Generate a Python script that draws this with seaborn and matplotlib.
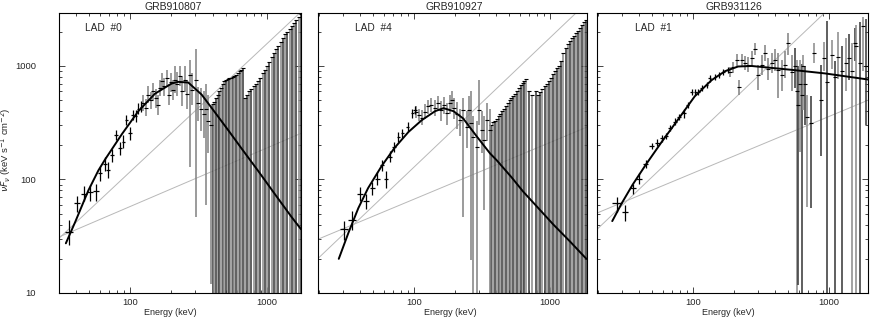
import matplotlib
matplotlib.use("Agg")
import matplotlib.pyplot as plt
import seaborn as sns
import numpy as np

# ---------------- data ----------------
# GRB910807 / LAD #0
P1_E = [35.9, 41.2, 46.2, 51.0, 56.2, 60.4, 65.7, 69.4, 74.2, 79.0, 84.5, 89.3, 94.0, 100, 104.6, 110, 115, 120]
P1_E_LO = [33.5, 39.3, 44.0, 48.6, 53.6, 58.2, 63.3, 67.3, 72.0, 76.7, 82.0, 86.8, 91.5, 97.2, 102.0, 107.3, 112.5, 117.5]
P1_E_HI = [38.5, 43.2, 48.5, 53.5, 58.9, 62.7, 68.2, 71.6, 76.5, 81.4, 87.0, 91.8, 96.6, 102.8, 107.3, 112.8, 117.6, 122.6]
P1_F = [34.7, 62.5, 75, 77, 79, 113, 137, 122, 164, 247, 188, 215, 334, 255, 370, 361, 420, 438]
P1_F_LO = [26.5, 52, 64, 65, 64, 97, 118, 103, 143, 222, 163, 188, 300, 222, 335, 318, 375, 390]
P1_F_HI = [44, 72, 87, 90, 92, 130, 158, 142, 186, 275, 215, 245, 370, 290, 410, 410, 468, 490]

P1_BAR_E = [125, 130, 136, 142, 148, 154, 160, 166, 172, 178, 185, 192, 199, 206, 214, 222, 231, 240,
            250, 261, 272, 284, 302, 316, 330, 344, 358, 373, 388]
P1_BAR_F = [470, 430, 560, 500, 600, 520, 450, 640, 740, 660, 780, 560, 720, 620, 760, 700, 820, 600,
            760, 570, 840, 620, 760, 470, 420, 380, 420, 330, 300]
P1_BAR_LO = [400, 360, 470, 420, 500, 430, 370, 540, 620, 540, 650, 450, 590, 500, 575, 540, 660, 440,
             590, 420, 130, 450, 47, 330, 270, 230, 60, 170, 12]
P1_BAR_HI = [555, 510, 660, 590, 710, 630, 550, 760, 870, 790, 930, 690, 870, 760, 990, 880, 1000, 800,
             990, 760, 1130, 860, 1420, 650, 640, 600, 700, 560, 453]

P1_TAIL_E = [400, 412, 424, 436, 448, 461, 474, 488, 502, 516, 531, 546, 562, 578, 595, 612, 630, 648, 665,
             690, 715, 742, 770, 800, 830, 862, 895, 929, 965, 1000, 1040, 1080, 1120, 1165, 1210, 1255,
             1305, 1355, 1405, 1460, 1515, 1575, 1635, 1700, 1760]
P1_TAIL_TOP = [460, 480, 520, 560, 600, 640, 700, 740, 760, 770, 780, 790, 800, 820, 840, 870, 900, 930, 955,
               520, 560, 600, 630, 670, 700, 740, 780, 860, 920, 1000, 1080, 1200, 1300, 1400, 1500, 1640,
               1750, 1900, 2000, 2120, 2240, 2400, 2560, 2700, 2900]

P1_MODEL_E = [34, 39.7, 49.6, 58.7, 65.7, 87, 115, 152, 201, 224, 266, 333, 417, 523, 655, 866, 1144, 1515, 1770]
P1_MODEL_F = [27.4, 42, 80, 120, 150, 250, 400, 570, 700, 725, 715, 560, 390, 270, 186, 118, 74, 46.5, 36.5]
P1_STEEP_E, P1_STEEP_F = [30, 1770], [30, 3000]
P1_FLAT_E, P1_FLAT_F = [30, 1770], [31, 255]

# GRB910927 / LAD #4
P2_E = [30.7, 35.2, 40.1, 44.3, 49.4, 53.7, 57.9, 61.9, 66.6, 71.6, 76.7, 82, 90, 97, 101.7]
P2_E_LO = [28.6, 33.0, 37.8, 42.3, 47.2, 51.5, 55.8, 59.9, 64.4, 69.3, 74.4, 79.6, 87.4, 94.3, 99.0]
P2_E_HI = [32.8, 37.5, 42.5, 46.4, 51.6, 56.0, 60.1, 64.0, 68.8, 73.9, 79.1, 84.5, 92.6, 99.8, 104.5]
P2_F = [36.6, 44, 74.5, 64, 83.5, 102, 134, 101, 159, 194, 238, 255, 292, 383, 409]
P2_F_LO = [29.6, 36, 64, 55, 73, 90, 118, 84, 142, 174, 216, 232, 266, 350, 375]
P2_F_HI = [43.3, 53, 86, 74, 95, 116, 150, 118, 178, 216, 262, 280, 320, 418, 445]

P2_BAR_E = [104, 108, 115, 120, 127, 134, 142, 150, 157, 165, 175, 183, 189, 196, 207, 218, 231, 244,
            252, 262, 273, 289, 303, 318, 326, 345, 362]
P2_BAR_F = [395, 372, 350, 397, 440, 455, 430, 470, 409, 455, 385, 470, 500, 430, 380, 333, 409, 292,
            409, 313, 238, 194, 409, 271, 222, 333, 271]
P2_BAR_LO = [350, 330, 300, 340, 380, 390, 360, 400, 330, 380, 300, 380, 420, 340, 280, 240, 47, 190,
             300, 19.5, 1, 1, 300, 170, 54, 220, 1]
P2_BAR_HI = [445, 420, 410, 460, 505, 525, 500, 545, 490, 530, 470, 560, 600, 520, 480, 420, 520, 400,
             540, 600, 360, 330, 750, 400, 360, 470, 420]

P2_TAIL_E = [370, 382, 394, 406, 419, 432, 446, 460, 475, 490, 505, 521, 538, 555, 572, 590, 609, 628, 648, 668,
             700, 740, 790, 820, 850, 880, 912, 945, 980, 1015, 1052, 1090, 1130, 1170, 1212, 1255, 1300,
             1347, 1395, 1445, 1497, 1550, 1605, 1662, 1720, 1780, 1840]
P2_TAIL_TOP = [300, 320, 330, 340, 360, 380, 400, 420, 440, 470, 500, 520, 540, 570, 600, 640, 680, 710, 740, 775,
               600, 560, 600, 555, 590, 630, 670, 700, 740, 790, 850, 900, 960, 1000, 1100, 1300, 1450,
               1550, 1650, 1750, 1850, 1950, 2050, 2150, 2300, 2450, 2550]

P2_MODEL_E = [28, 33, 39, 46, 58, 72, 91, 114, 143, 165, 195, 230, 289, 362, 405, 520, 636, 820, 1060, 1400, 1850]
P2_MODEL_F = [20, 34, 56, 84, 132, 190, 262, 333, 400, 425, 400, 345, 240, 170, 148, 105, 78, 56, 40, 28.5, 20]
P2_STEEP_E, P2_STEEP_F = [20, 1900], [20.5, 3690]
P2_FLAT_E, P2_FLAT_F = [20, 1900], [30, 292]

# GRB931126 / LAD #1
P3_E = [27.5, 31.6, 36.0, 40.1, 45.1, 49.7, 54.7, 59.0, 63.0, 67.7, 73.7, 79.3, 85.9, 91.4, 97.8, 103.6,
        109.5, 116, 126, 133, 145, 155, 167, 180]
P3_E_LO = [25.6, 29.9, 34.2, 38.2, 43.2, 47.7, 52.6, 56.9, 61.0, 65.5, 71.4, 76.9, 83.4, 88.9, 95.3, 101.0,
           106.8, 113.2, 123, 130, 141.8, 151.6, 163.5, 176.2]
P3_E_HI = [29.9, 33.4, 37.9, 42.0, 47.1, 51.8, 56.9, 61.1, 65.1, 70.0, 76.0, 81.8, 88.5, 94.0, 100.4, 106.3,
           112.3, 118.9, 129, 136, 148.3, 158.5, 170.6, 183.8]
P3_F = [62.5, 52, 83.5, 102, 137, 197, 211, 230, 242, 282, 323, 358, 383, 452, 592, 592, 592, 640, 680, 777,
        800, 830, 890, 920]
P3_F_LO = [52, 43.3, 75, 92, 126, 184, 197, 215, 226, 265, 303, 337, 350, 425, 560, 560, 555, 600, 640, 730,
           750, 780, 835, 860]
P3_F_HI = [70.5, 59.6, 92, 113, 149, 211, 226, 246, 259, 300, 345, 381, 415, 480, 625, 625, 630, 680, 725, 825,
           850, 880, 950, 985]

P3_BAR_E = [187, 198, 209, 218, 228, 241, 255, 270, 285, 302, 320, 338, 358, 379, 400, 424, 449, 475, 502, 531,
            560, 578, 595, 612, 630, 648, 662, 687, 737, 780, 873, 922, 962, 1055, 1110, 1170, 1240, 1330,
            1400, 1470, 1550, 1590, 1690, 1790, 1870]
P3_BAR_F = [890, 970, 1130, 655, 1130, 1060, 1030, 1170, 1420, 830, 1030, 1300, 950, 1060, 1130, 920, 830, 1030,
            1580, 890, 990, 600, 450, 700, 560, 1000, 700, 358, 313, 1300, 500, 1170, 730, 1250, 800, 1210,
            900, 1060, 1170, 900, 1580, 1500, 1060, 2250, 1000]
P3_BAR_LO = [800, 860, 1000, 560, 990, 920, 880, 1000, 1250, 615, 840, 1100, 760, 860, 900, 520, 600, 780,
             1250, 600, 640, 1, 11.8, 175, 1, 409, 300, 57, 56, 1060, 160, 900, 1, 940, 1, 770, 1, 600, 750,
             1, 1100, 1, 1, 900, 300]
P3_BAR_HI = [980, 1090, 1270, 760, 1280, 1220, 1200, 1360, 1600, 1020, 1260, 1520, 1180, 1300, 1400, 1300,
             1120, 1350, 1950, 1250, 1450, 1130, 1000, 1130, 1050, 1250, 1000, 555, 545, 1580, 1020, 1630,
             2500, 1700, 1100, 2000, 1500, 1750, 1900, 1600, 2150, 2300, 2450, 2700, 2600]
P3_TAIL_E, P3_TAIL_TOP = [], []

P3_MODEL_E = [25.5, 30, 36, 45, 59, 78, 103, 137, 172, 215, 270, 531, 935, 1940]
P3_MODEL_F = [43, 62, 90, 135, 215, 340, 540, 750, 900, 990, 1000, 925, 860, 760]
P3_STEEP_E, P3_STEEP_F = [20, 1940], [37, 6810]
P3_FLAT_E, P3_FLAT_F = [20, 1940], [51, 500]

TITLES = ["GRB910807", "GRB910927", "GRB931126"]
DETECTORS = ["LAD  #0", "LAD  #4", "LAD  #1"]

# ---------------- styling ----------------
sns.set_theme(style="ticks")
plt.rcParams['font.family'] = ['Liberation Sans', 'DejaVu Sans']
plt.rcParams['mathtext.fontset'] = 'dejavusans'

W, H = 871, 318
# pixel boxes (left, right, xlim) for each panel; shared top/bottom
boxes = [(59, 301, (30.3, 1770)), (318, 587, (19.7, 1870)), (597, 868, (19.7, 1935))]
top_px, bot_px = 13, 293
dark_from = [400, 370, 560]
title_x = [0.473, 0.506, 0.504]
xlabel_x = [0.459, 0.491, 0.486]
lad_x = [0.107, 0.1375, 0.14]

panels = [
    (P1_E, P1_E_LO, P1_E_HI, P1_F, P1_F_LO, P1_F_HI, P1_BAR_E, P1_BAR_F, P1_BAR_LO, P1_BAR_HI,
     P1_TAIL_E, P1_TAIL_TOP, P1_MODEL_E, P1_MODEL_F, P1_STEEP_E, P1_STEEP_F, P1_FLAT_E, P1_FLAT_F),
    (P2_E, P2_E_LO, P2_E_HI, P2_F, P2_F_LO, P2_F_HI, P2_BAR_E, P2_BAR_F, P2_BAR_LO, P2_BAR_HI,
     P2_TAIL_E, P2_TAIL_TOP, P2_MODEL_E, P2_MODEL_F, P2_STEEP_E, P2_STEEP_F, P2_FLAT_E, P2_FLAT_F),
    (P3_E, P3_E_LO, P3_E_HI, P3_F, P3_F_LO, P3_F_HI, P3_BAR_E, P3_BAR_F, P3_BAR_LO, P3_BAR_HI,
     P3_TAIL_E, P3_TAIL_TOP, P3_MODEL_E, P3_MODEL_F, P3_STEEP_E, P3_STEEP_F, P3_FLAT_E, P3_FLAT_F),
]

fig = plt.figure(figsize=(W / 100, H / 100), dpi=100)
shades = ['#3c3c3c', '#8e8e8e']

for i, (box, data) in enumerate(zip(boxes, panels)):
    left, right, xlim = box
    ax = fig.add_axes([left / W, (H - bot_px) / H, (right - left) / W, (bot_px - top_px) / H])
    (e, elo, ehi, f, flo, fhi, be, bf, blo, bhi, te, ttop, me, mf, se, sf, fe, ff) = [np.asarray(a, float) for a in data]
    ax.set_xscale('log')
    ax.set_yscale('log')

    # power-law components
    sns.lineplot(x=se, y=sf, ax=ax, color='#b8b8b8', lw=0.7, sort=False)
    sns.lineplot(x=fe, y=ff, ax=ax, color='#b8b8b8', lw=0.7, sort=False)

    # high-energy bars with no visible centre
    if len(te):
        cols = [shades[k % 2] for k in range(len(te))]
        ax.vlines(te, 1, ttop, colors=cols, lw=1.15)
        ax.plot(te, ttop, ls='none', marker='_', ms=2.5, mew=0.8, color='black')

    # mid-energy bars
    cols = ['#858585' if x < dark_from[i] else shades[k % 2] for k, x in enumerate(be)]
    ax.vlines(be, blo, bhi, colors=cols, lw=1.15)
    ax.plot(be, bf, ls='none', marker='_', ms=2.5, mew=0.8, color='black')

    # low-energy crosses
    ax.errorbar(e, f, xerr=[e - elo, ehi - e], yerr=[f - flo, fhi - f], fmt='none',
                ecolor='black', elinewidth=0.9)

    # Band model
    sns.lineplot(x=me, y=mf, ax=ax, color='black', lw=1.4, sort=False)

    ax.set_xlim(*xlim)
    ax.set_ylim(10, 2930)
    ax.set_xticks([100, 1000])
    ax.set_xticklabels(["100", "1000"])
    ax.set_yticks([10, 100, 1000])
    ax.set_yticklabels(["10", "100", "1000"])
    ax.tick_params(which='both', direction='in', top=True, right=True, labelsize=6.8, width=0.6)
    ax.tick_params(axis='x', pad=3.5)
    ax.tick_params(axis='y', pad=16.5)
    ax.tick_params(which='major', length=4.2)
    ax.tick_params(which='minor', length=2.4)
    if i > 0:
        ax.tick_params(labelleft=False)
    for s in ax.spines.values():
        s.set_linewidth(0.8)
        s.set_color('black')
    ax.set_xlabel("Energy (keV)", fontsize=6.5)
    ax.xaxis.set_label_coords(xlabel_x[i], -0.054)
    ax.set_ylabel("")
    ax.set_title(TITLES[i], fontsize=7.5, pad=2.5, x=title_x[i])
    ax.text(lad_x[i], 0.945, DETECTORS[i], transform=ax.transAxes, va='center', ha='left', fontsize=7.3)

fig.text(6 / W, 0.528, r"$\nu F_\nu$ (keV s$^{-1}$ cm$^{-2}$)", rotation=90, ha='center', va='center', fontsize=6.8)

fig.savefig("out.png", dpi=100)
